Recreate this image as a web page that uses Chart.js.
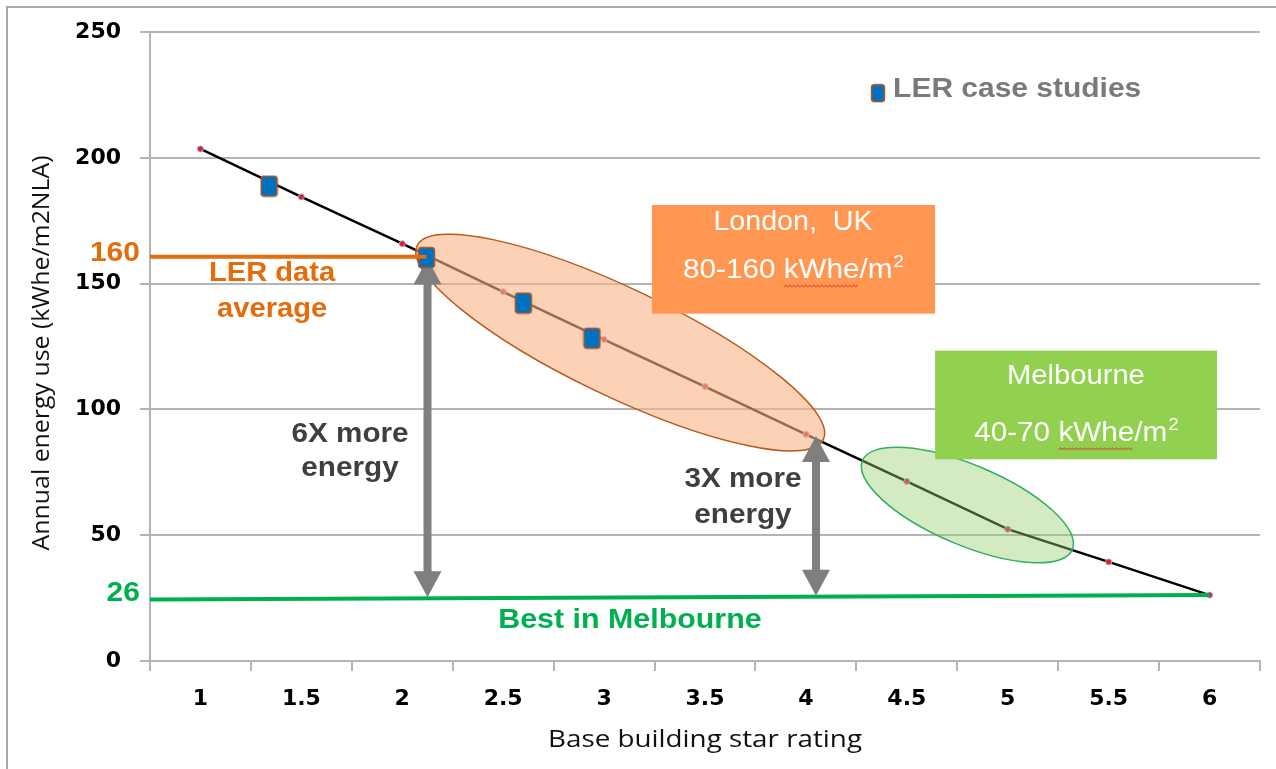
<!DOCTYPE html>
<html><head><meta charset="utf-8">
<script src="https://cdn.jsdelivr.net/npm/chart.js@4/dist/chart.umd.min.js"></script>
<style>html,body{margin:0;padding:0;background:#fff;} #wrap{width:1276px;height:769px;position:relative;}</style>
</head><body><div id="wrap"><canvas id="c" width="1276" height="769"></canvas></div>
<script>
// ---- data ----
const starRatings = [1, 1.5, 2, 2.5, 3, 3.5, 4, 4.5, 5, 5.5, 6];
const energyUse = [203.6, 184.5, 165.9, 146.8, 127.8, 109.1, 90.1, 71.4, 52.4, 39.4, 26.2];
const caseStudyRatings = [1.34, 2.12, 2.60, 2.94];
const caseStudyEnergy = [188.8, 160.4, 142.3, 128.3];
const lerAverageX = [0.75, 2.12];
const lerAverageY = [160.7, 160.7];
const bestMelbourneX = [0.75, 6];
const bestMelbourneY = [24.5, 26.2];
const xTickLabels = ['1', '1.5', '2', '2.5', '3', '3.5', '4', '4.5', '5', '5.5', '6'];
const yTickLabels = ['0', '50', '100', '150', '200', '250'];
const arrowRatings = [2.125, 4.05];
const arrowTopEnergy = [160, 89.5];
const arrowBottomEnergy = [25.3, 25.9];
const xTitle = 'Base building star rating';
const yTitle = 'Annual energy use (kWhe/m2NLA)';

const ARIAL = '"Liberation Sans", Arial, sans-serif';
const OPEN = '"Open Sans", sans-serif';
const GRID = '#B4B4B4';

function makeMarker(w, h) {
  const c = document.createElement('canvas');
  c.width = w + 3; c.height = h + 3;
  const g = c.getContext('2d');
  const x = 1.5, y = 1.5, r = 3;
  g.beginPath();
  g.moveTo(x + r, y); g.lineTo(x + w - r, y); g.quadraticCurveTo(x + w, y, x + w, y + r);
  g.lineTo(x + w, y + h - r); g.quadraticCurveTo(x + w, y + h, x + w - r, y + h);
  g.lineTo(x + r, y + h); g.quadraticCurveTo(x, y + h, x, y + h - r);
  g.lineTo(x, y + r); g.quadraticCurveTo(x, y, x + r, y); g.closePath();
  g.fillStyle = '#0070C0'; g.fill();
  g.lineWidth = 1.5; g.strokeStyle = '#B3541E'; g.stroke();
  return c;
}
const caseMarker = makeMarker(16, 20);
const legendMarker = makeMarker(13, 17);

function sText(ctx, text, x, y, font, color, align, sx) {
  ctx.save();
  ctx.font = font; ctx.fillStyle = color; ctx.textBaseline = 'middle'; ctx.textAlign = 'left';
  const w = ctx.measureText(text).width * sx;
  const left = align === 'center' ? x - w / 2 : align === 'right' ? x - w : x;
  ctx.translate(left, y); ctx.scale(sx, 1);
  ctx.fillText(text, 0, 0);
  ctx.restore();
  return { left, width: w };
}

function fitText(ctx, text, cx, cy, font, color, width, rot) {
  ctx.save();
  ctx.font = font; ctx.fillStyle = color; ctx.textBaseline = 'middle'; ctx.textAlign = 'center';
  const sx = width / ctx.measureText(text).width;
  ctx.translate(cx, cy); ctx.rotate(rot); ctx.scale(sx, 1);
  ctx.fillText(text, 0, 0);
  ctx.restore();
}

function squiggle(ctx, x1, x2, y) {
  ctx.save(); ctx.strokeStyle = '#E03030'; ctx.lineWidth = 1;
  ctx.beginPath(); ctx.moveTo(x1, y);
  let up = true;
  for (let x = x1 + 2; x <= x2; x += 2) { ctx.lineTo(x, up ? y - 1.5 : y); up = !up; }
  ctx.stroke(); ctx.restore();
}

function unitText(ctx, prefix, under, suffix, cx, y, size, sx) {
  ctx.save();
  const font = size + 'px ' + ARIAL;
  const supFont = Math.round(size * 0.62) + 'px ' + ARIAL;
  ctx.font = font;
  const wP = ctx.measureText(prefix).width * sx;
  const wU = ctx.measureText(under).width * sx;
  const wS = ctx.measureText(suffix).width * sx;
  ctx.font = supFont;
  const wSup = ctx.measureText('2').width * sx;
  const total = wP + wU + wS + wSup;
  let x = cx - total / 2;
  sText(ctx, prefix, x, y, font, '#FFFFFF', 'left', sx); x += wP;
  sText(ctx, under, x, y, font, '#FFFFFF', 'left', sx);
  squiggle(ctx, x, x + wU, y + size * 0.6);
  x += wU;
  sText(ctx, suffix, x, y, font, '#FFFFFF', 'left', sx); x += wS;
  sText(ctx, '2', x + 1, y - size * 0.3, supFont, '#FFFFFF', 'left', sx);
  ctx.restore();
}

function drawArrow(ctx, x, yTop, yBot) {
  const hw = 14, hl = 26, sw = 4;
  ctx.save(); ctx.fillStyle = '#7F7F7F';
  ctx.beginPath();
  ctx.moveTo(x, yTop); ctx.lineTo(x + hw, yTop + hl); ctx.lineTo(x + sw, yTop + hl);
  ctx.lineTo(x + sw, yBot - hl); ctx.lineTo(x + hw, yBot - hl); ctx.lineTo(x, yBot);
  ctx.lineTo(x - hw, yBot - hl); ctx.lineTo(x - sw, yBot - hl); ctx.lineTo(x - sw, yTop + hl);
  ctx.lineTo(x - hw, yTop + hl); ctx.closePath(); ctx.fill();
  ctx.restore();
}

function ellipse(ctx, cx, cy, a, b, deg, fill, stroke) {
  ctx.save();
  ctx.beginPath(); ctx.ellipse(cx, cy, a, b, deg * Math.PI / 180, 0, Math.PI * 2);
  ctx.fillStyle = fill; ctx.fill();
  ctx.lineWidth = 1.5; ctx.strokeStyle = stroke; ctx.stroke();
  ctx.restore();
}

const decor = {
  id: 'decor',
  beforeDraw(chart) {
    const ctx = chart.ctx;
    ctx.save();
    ctx.fillStyle = '#fff'; ctx.fillRect(0, 0, chart.width, chart.height);
    ctx.strokeStyle = '#A9A9A9'; ctx.lineWidth = 2;
    ctx.beginPath(); ctx.moveTo(7, chart.height); ctx.lineTo(7, 7); ctx.lineTo(chart.width, 7); ctx.stroke();
    ctx.restore();
  },
  afterDraw(chart) {
    const ctx = chart.ctx, xs = chart.scales.x, ys = chart.scales.y;
    fitText(ctx, xTitle, xs.getPixelForValue(3.5), 740, '23px ' + OPEN, '#111', 314, 0);
    fitText(ctx, yTitle, 42, ys.getPixelForValue(122.5), '23px ' + OPEN, '#111', 395, -Math.PI / 2);
  },
  afterDatasetDraw(chart, args) {
    if (args.index !== 3) return;
    const ctx = chart.ctx, xs = chart.scales.x, ys = chart.scales.y;
    ellipse(ctx, xs.getPixelForValue(3.08), ys.getPixelForValue(126.6), 225, 54, 25.5,
      'rgba(250,180,135,0.6)', '#B8581E');
    ellipse(ctx, xs.getPixelForValue(4.80), ys.getPixelForValue(62), 114, 40, 23,
      'rgba(150,205,110,0.42)', '#30B060');
    for (let i = 0; i < arrowRatings.length; i++) {
      drawArrow(ctx, xs.getPixelForValue(arrowRatings[i]),
        ys.getPixelForValue(arrowTopEnergy[i]), ys.getPixelForValue(arrowBottomEnergy[i]));
    }
  },
  afterDatasetsDraw(chart) {
    const ctx = chart.ctx, xs = chart.scales.x, ys = chart.scales.y;
    const X = v => xs.getPixelForValue(v), Y = v => ys.getPixelForValue(v);
    const B28 = 'bold 28px ' + ARIAL;
    const S = 1.07;
    ctx.save();
    ctx.fillStyle = '#FF9752';
    ctx.fillRect(X(3.237), Y(181.3), X(4.640) - X(3.237), Y(138.1) - Y(181.3));
    ctx.fillStyle = '#92D050';
    ctx.fillRect(X(4.640), Y(123.4), X(6.037) - X(4.640), Y(80.2) - Y(123.4));
    ctx.restore();
    sText(ctx, 'London,  UK', X(3.936), Y(174.2), '27px ' + ARIAL, '#FFFFFF', 'center', 1.06);
    unitText(ctx, '80-160 ', 'kWhe', '/m', X(3.936), Y(155.2), 27, 1.1);
    sText(ctx, 'Melbourne', X(5.338), Y(113.1), '27px ' + ARIAL, '#FFFFFF', 'center', 1.08);
    unitText(ctx, '40-70 ', 'kWhe', '/m', X(5.338), Y(90.5), 27, 1.1);
    sText(ctx, '160', X(0.70), Y(162), B28, '#E46C0A', 'right', S);
    sText(ctx, 'LER data', X(1.355), Y(154.0), B28, '#E46C0A', 'center', 1.04);
    sText(ctx, 'average', X(1.355), Y(139.7), B28, '#E46C0A', 'center', 1.04);
    sText(ctx, '26', X(0.70), Y(27), B28, '#00B050', 'right', S);
    sText(ctx, 'Best in Melbourne', X(3.128), Y(16.3), B28, '#00B050', 'center', 1.085);
    sText(ctx, '6X more', X(1.741), Y(90.1), B28, '#3F3F3F', 'center', 1.06);
    sText(ctx, 'energy', X(1.741), Y(76.6), B28, '#3F3F3F', 'center', 1.06);
    sText(ctx, '3X more', X(3.688), Y(72.2), B28, '#3F3F3F', 'center', 1.06);
    sText(ctx, 'energy', X(3.688), Y(57.9), B28, '#3F3F3F', 'center', 1.06);
    ctx.drawImage(legendMarker, X(4.357) - legendMarker.width / 2, Y(225.8) - legendMarker.height / 2);
    sText(ctx, 'LER case studies', X(4.432), Y(227.4), B28, '#7A7A7A', 'left', S);
  }
};

const xLabelValues = xTickLabels.map(Number);
const yLabelValues = yTickLabels.map(Number);
const TICKFONT = { family: '"DejaVu Sans"', size: 22, weight: 'bold' };

new Chart(document.getElementById('c'), {
  type: 'line',
  data: {
    datasets: [
      { label: 'LER data average', data: lerAverageX.map((x, i) => ({ x, y: lerAverageY[i] })),
        borderColor: '#E46C0A', borderWidth: 4, pointRadius: 0, order: 0 },
      { label: 'LER case studies', data: caseStudyRatings.map((x, i) => ({ x, y: caseStudyEnergy[i] })),
        showLine: false, pointStyle: caseMarker, pointRadius: 10, order: 1 },
      { label: 'Best in Melbourne', data: bestMelbourneX.map((x, i) => ({ x, y: bestMelbourneY[i] })),
        borderColor: '#00B050', borderWidth: 4, pointRadius: 0, order: 2 },
      { label: 'Star rating curve', data: starRatings.map((x, i) => ({ x, y: energyUse[i] })),
        borderColor: '#000000', borderWidth: 2.5, pointRadius: 3, pointBorderWidth: 1,
        pointBackgroundColor: '#F01818', pointBorderColor: '#8FB4E0', order: 3 }
    ]
  },
  options: {
    responsive: false, devicePixelRatio: 1, animation: false, events: [],
    layout: { padding: { left: 0, top: 31, right: 16, bottom: 0 } },
    plugins: { legend: { display: false }, tooltip: { enabled: false } },
    scales: {
      x: {
        type: 'linear', min: 0.75, max: 6.25,
        afterBuildTicks(scale) {
          const vals = [];
          xLabelValues.forEach(v => { vals.push(v - 0.25); vals.push(v); });
          vals.push(xLabelValues[xLabelValues.length - 1] + 0.25);
          scale.ticks = vals.map(v => ({ value: v }));
        },
        afterFit(scale) { scale.height = 108; },
        ticks: {
          autoSkip: false, maxRotation: 0, padding: 15, color: '#000', font: TICKFONT,
          callback(v) { const i = xLabelValues.indexOf(v); return i >= 0 ? xTickLabels[i] : ''; }
        },
        grid: {
          drawOnChartArea: false, drawTicks: true, tickLength: 10, lineWidth: 2,
          color: ctx => (ctx.tick && xLabelValues.indexOf(ctx.tick.value) >= 0) ? 'rgba(0,0,0,0)' : GRID
        },
        border: { color: GRID, width: 2 },
        title: { display: false }
      },
      y: {
        type: 'linear', min: 0, max: 250,
        afterBuildTicks(scale) { scale.ticks = yLabelValues.map(v => ({ value: v })); },
        afterFit(scale) { scale.width = 150; },
        ticks: {
          padding: 19, color: '#000', font: TICKFONT,
          callback(v) { const i = yLabelValues.indexOf(v); return i >= 0 ? yTickLabels[i] : ''; }
        },
        grid: { color: GRID, lineWidth: 2, tickLength: 10 },
        border: { color: GRID, width: 2 },
        title: { display: false }
      }
    }
  },
  plugins: [decor]
});
</script>
</body></html>
